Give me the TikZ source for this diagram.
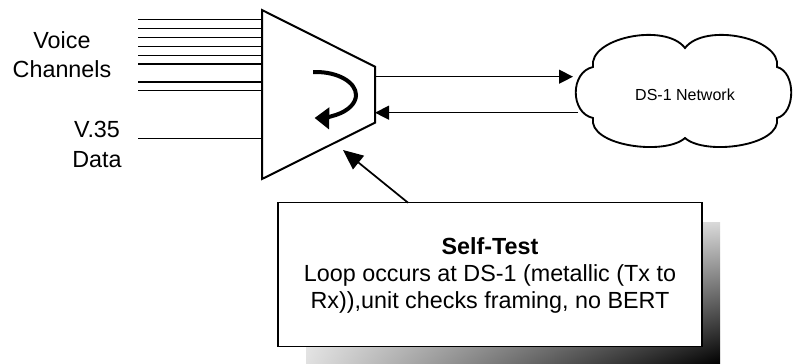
\documentclass[tikz,border=0pt]{standalone}
\usepackage{fontspec}
\setmainfont{Liberation Sans}
\usetikzlibrary{arrows.meta,shadings}
\begin{document}
\begin{tikzpicture}[x=0.75pt,y=-0.75pt,
  chan/.style={line width=0.95pt},
  conn/.style={line width=1pt,-{Triangle[length=10.5pt,width=10.5pt]}},
  lbl/.style={font=\fontsize{17.5}{21}\selectfont, anchor=base, inner sep=0pt},
  boxtxt/.style={font=\fontsize{17.5}{21}\selectfont, anchor=base, inner sep=0pt}]
\useasboundingbox (0,0) rectangle (793,364);
% multiplexer trapezoid
\coordinate (tl) at (262,10);
\coordinate (bl) at (262,179);
\coordinate (tr) at (375,66.7);
\coordinate (br) at (375,122.7);
\draw[line width=1.5pt, line join=miter] (tl) -- (tr) -- (br) -- (bl) -- cycle;
% voice channel lines
\foreach \y/\n in {19.3/1,28.3/2,37.3/3,46.3/4,55.3/5,64/6,82/7,90.7/8}{
  \coordinate (c\n) at (138,\y);
  \draw[chan] (c\n) -- (c\n -| tl);
}
% V.35 line
\coordinate (v35) at (138,138.3);
\draw[chan] (v35) -- (v35 -| tl);
% labels
\node[lbl] (voice1) at (62,48.3) {Voice};
\node[lbl] (voice2) at (62,77.7) {Channels};
\node[lbl] (data1) at (97,137) {V.35};
\node[lbl] (data2) at (97,167) {Data};
% loop arrow
\coordinate (ls) at (313,72);
\draw[line width=3pt, -{Triangle[length=11pt,width=16pt]}] (ls) -- (316,72)
  arc[start angle=-90,end angle=92,x radius=40,y radius=23];
% cloud
\coordinate (A) at (593,67);
\coordinate (B) at (685,48);
\coordinate (C) at (777,67);
\coordinate (D) at (777,118);
\coordinate (E) at (685,138);
\coordinate (F) at (593,118);
\draw[line width=1.4pt, fill=white] (A) .. controls (588,38) and (665,22) .. (B)
  .. controls (705,22) and (782,38) .. (C)
  .. controls (796,72) and (796,113) .. (D)
  .. controls (782,146) and (705,156) .. (E)
  .. controls (665,156) and (588,146) .. (F)
  .. controls (570,113) and (570,72) .. (A) -- cycle;
\node[font=\fontsize{12}{14}\selectfont, inner sep=0pt] (net) at (685,95) {DS-1 Network};
% links
\coordinate (o1) at (375,76.7);
\coordinate (o2) at (573,76.7);
\coordinate (i1) at (578,112.7);
\coordinate (i2) at (375,112.7);
\draw[conn] (o1) -- (o2);
\draw[conn] (i1) -- (i2);
% shadow
\shade[upper left=white, upper right=white!85!black, lower left=white!88!black, lower right=black] (306,222) rectangle (720,364);
% self-test box
\node[draw, fill=white, line width=1.1pt, minimum width=318pt, minimum height=108pt, inner sep=0pt] (box) at (490,274.7) {};
\node[boxtxt, font=\fontsize{17.5}{21}\selectfont\bfseries] (t1) at (490,254) {Self-Test};
\node[boxtxt] (t2) at (490,281.7) {Loop occurs at DS-1 (metallic (Tx to};
\node[boxtxt] (t3) at (490,308) {Rx)),unit checks framing, no BERT};
\coordinate (bt) at (408,202.7);
\coordinate (tip) at (343,150);
\draw[line width=1.3pt, -{Triangle[length=15pt,width=13pt]}] (bt) -- (tip);
\end{tikzpicture}
\end{document}
